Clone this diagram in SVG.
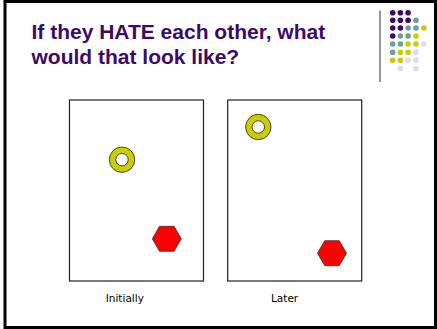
<svg xmlns="http://www.w3.org/2000/svg" width="437" height="329" viewBox="0 0 437 329">
<defs>
<style>
.title{font-family:"Liberation Sans",Arial,sans-serif;font-weight:bold;font-size:21px;fill:#3d0a68}
.lbl{font-family:"DejaVu Sans",Verdana,sans-serif;font-size:10.5px;fill:#000}
.panel{fill:#fff;stroke:#222;stroke-width:1.2}
.ring{fill:#cccc00;stroke:#222;stroke-width:0.8}
.hole{fill:#fff;stroke:#222;stroke-width:0.8}
.hex{fill:#ff0000;stroke:#333;stroke-width:0.8}
.p{fill:#3d0a68}.t{fill:#6b9e9c}.y{fill:#cccc00}.l{fill:#dcdcec}
</style>
<g id="dotgrid">
</g>
</defs>
<rect x="0" y="0" width="437" height="329" fill="#fff"/>
<rect x="5" y="1.5" width="430.5" height="326" fill="none" stroke="#000" stroke-width="3"/>
<g id="title">
<text class="title" x="31.5" y="39">If they HATE each other, what</text>
<text class="title" x="31.5" y="63.5">would that look like?</text>
</g>
<line x1="380" y1="10.5" x2="380" y2="82" stroke="#333" stroke-width="1"/>
<g id="dots">
<circle class="p" cx="392.7" cy="12.7" r="2.8"/><circle class="p" cx="400.4" cy="12.7" r="2.8"/><circle class="p" cx="408.1" cy="12.7" r="2.8"/>
<circle class="p" cx="392.7" cy="20.3" r="2.8"/><circle class="p" cx="400.4" cy="20.3" r="2.8"/><circle class="p" cx="408.1" cy="20.3" r="2.8"/><circle class="t" cx="416" cy="20.3" r="2.8"/>
<circle class="p" cx="392.7" cy="28" r="2.8"/><circle class="p" cx="400.4" cy="28" r="2.8"/><circle class="t" cx="408.1" cy="28" r="2.8"/><circle class="t" cx="416" cy="28" r="2.8"/><circle class="y" cx="423.8" cy="28" r="2.8"/>
<circle class="p" cx="392.7" cy="36" r="2.8"/><circle class="t" cx="400.4" cy="36" r="2.8"/><circle class="t" cx="408.1" cy="36" r="2.8"/><circle class="y" cx="416" cy="36" r="2.8"/>
<circle class="t" cx="392.7" cy="44" r="2.8"/><circle class="t" cx="400.4" cy="44" r="2.8"/><circle class="y" cx="408.1" cy="44" r="2.8"/><circle class="y" cx="416" cy="44" r="2.8"/><circle class="l" cx="423.8" cy="44" r="2.8"/>
<circle class="t" cx="392.7" cy="52.3" r="2.8"/><circle class="y" cx="400.4" cy="52.3" r="2.8"/><circle class="y" cx="408.1" cy="52.3" r="2.8"/><circle class="l" cx="416" cy="52.3" r="2.8"/>
<circle class="y" cx="392.7" cy="60.3" r="2.8"/><circle class="y" cx="400.4" cy="60.3" r="2.8"/><circle class="l" cx="408.1" cy="60.3" r="2.8"/><circle class="l" cx="416" cy="60.3" r="2.8"/>
<circle class="l" cx="400.4" cy="68.5" r="2.8"/><circle class="l" cx="416" cy="68.5" r="2.8"/>
</g>
<g id="panel-initially">
<rect class="panel" x="69.5" y="100" width="134" height="181"/>
<circle class="ring" cx="122" cy="159.7" r="12.7"/>
<circle class="hole" cx="122" cy="159.7" r="6.2"/>
<polygon class="hex" points="152.3,238.8 159.5,226.3 174.1,226.3 181.3,238.8 174.1,251.3 159.5,251.3"/>
<text class="lbl" x="105.7" y="301.5">Initially</text>
</g>
<g id="panel-later">
<rect class="panel" x="227.7" y="100" width="134" height="181"/>
<circle class="ring" cx="258.3" cy="127" r="12.7"/>
<circle class="hole" cx="258.3" cy="127" r="6.2"/>
<polygon class="hex" points="317.5,253.2 324.7,240.7 339.3,240.7 346.5,253.2 339.3,265.7 324.7,265.7"/>
<text class="lbl" x="271" y="301.5">Later</text>
</g>
<g id="connectors"/>
</svg>
